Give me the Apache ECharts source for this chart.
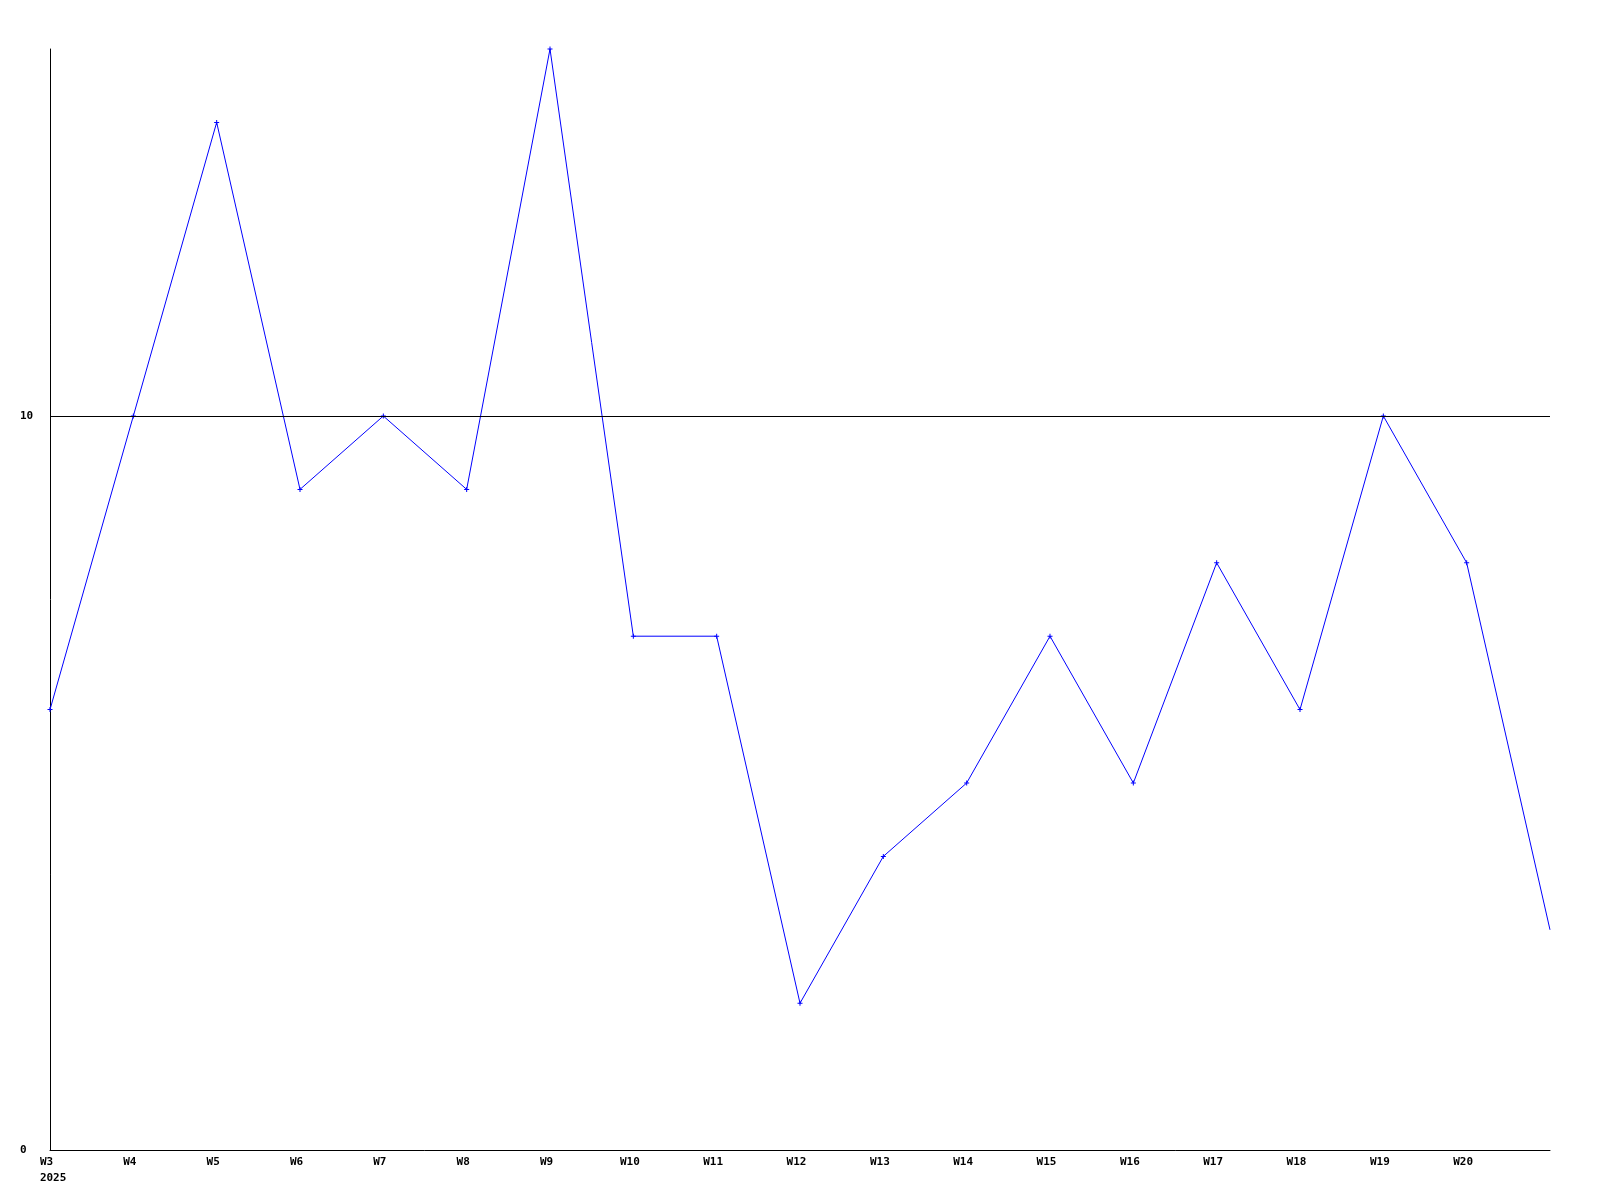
<!DOCTYPE html>
<html>
<head>
<meta charset="utf-8">
<script src="https://cdn.jsdelivr.net/npm/echarts@6/dist/echarts.min.js"></script>
<style>html,body{margin:0;padding:0;background:#fff}#c{width:1600px;height:1200px}</style>
</head>
<body>
<div id="c"></div>
<script>
var categories = ["W3","W4","W5","W6","W7","W8","W9","W10","W11","W12","W13","W14","W15","W16","W17","W18","W19","W20","W21"];
var values = [6,10,14,9,10,9,15,7,7,2,4,5,7,5,8,6,10,8,3];
var yearLabel = "2025";
var yTicks = [0, 10];
var refLine = 10;

var chart = echarts.init(document.getElementById('c'));
var font = '"DejaVu Sans Mono", monospace';
var plus = 'path://M2,0L3,0L3,2L5,2L5,3L3,3L3,5L2,5L2,3L0,3L0,2L2,2Z';
var data = values.map(function(v, i){
  return i === values.length - 1 ? {value: v, symbol: 'none'} : v;
});
chart.setOption({
  animation: false,
  grid: {left: 50, right: 50, top: 49, bottom: 50, containLabel: false},
  xAxis: {
    type: 'category', data: categories, boundaryGap: false,
    axisLine: {lineStyle: {color: '#000', width: 1}},
    axisTick: {show: false},
    splitLine: {show: false},
    axisLabel: {
      color: '#000', fontFamily: font, fontWeight: 'bold', fontSize: 11, margin: 4,
      lineHeight: 16, padding: [0, 7, 0, 0],
      interval: 0,
      formatter: function(v, i){
        if (i === 0) return '  ' + v + '  \n  ' + yearLabel;
        if (i === categories.length - 1) return '';
        return v;
      }
    }
  },
  yAxis: {
    type: 'value', min: 0, max: 15, interval: 10,
    axisLine: {show: true, lineStyle: {color: '#000', width: 1}},
    axisTick: {show: false},
    splitLine: {show: false},
    axisLabel: {
      color: '#000', fontFamily: font, fontWeight: 'bold', fontSize: 11, margin: 30,
      align: 'left',
      formatter: function(v){ return yTicks.indexOf(v) >= 0 ? String(v) : ''; }
    }
  },
  series: [{
    type: 'line', data: data,
    lineStyle: {color: '#0000ff', width: 1},
    itemStyle: {color: '#0000ff'},
    symbol: plus, symbolSize: 5, showSymbol: true,
    clip: false,
    markLine: {
      silent: true, symbol: 'none', label: {show: false},
      lineStyle: {color: '#000', width: 1, type: 'solid'},
      data: [{yAxis: refLine}]
    },
    z: 3
  }]
});
</script>
</body>
</html>
